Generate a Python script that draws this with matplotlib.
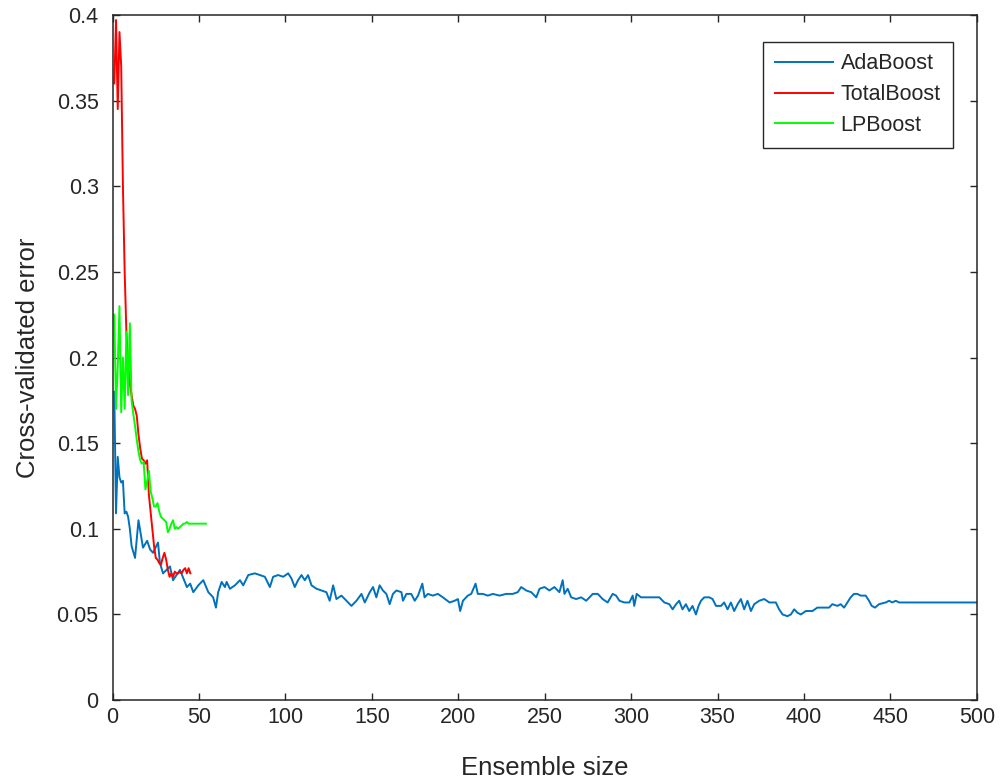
import matplotlib
matplotlib.use('Agg')
import matplotlib.pyplot as plt

# AdaBoost (blue)
ada_x = [1, 2, 3, 4, 5, 6, 7, 8, 9, 10, 11, 13, 15, 17.6, 20, 21.7, 23.4, 26.3, 27.4, 29.2,
         33.2, 35, 39, 43, 44.9, 46.7, 49.6, 52.5, 55.4, 58.2, 59.8, 61.1, 63.1, 65, 66, 67.9,
         70.8, 73.7, 75.6, 78.5, 82.3, 85.2, 88.1, 91, 92.9, 95.8, 98.7, 101.6, 103.5, 105.4,
         107.3, 109.3, 111.2, 113.1, 115.1, 118, 120.9, 123.7, 125.6, 127.6, 129.5, 132.4,
         135.3, 138.2, 141.1, 144, 145.9, 148.8, 150.7, 152.6, 154.5, 156.4, 158.4, 160.3,
         162.2, 164.2, 167.1, 168, 170, 172.8, 174.8, 176.7, 179.2, 180.5, 182.4, 185.3, 188.2,
         191.1, 195, 197.9, 199.8, 201.1, 202.7, 205.5, 207.5, 210, 211.3, 214.2, 217.1, 220,
         223.9, 227.7, 231.5, 234.4, 236.4, 239.3, 242.2, 245.1, 247, 249.9, 252.7, 255.6,
         258.5, 260.4, 261.4, 263.3, 265.3, 268.2, 271.1, 274, 277.8, 280.7, 283.5, 286.4,
         289.3, 291.3, 293.2, 296.1, 299, 300.9, 301.8, 303.2, 305.7, 316.3, 319.2, 322.1, 324,
         326, 327.8, 329.7, 331.7, 333.6, 335.5, 337.5, 339, 340.4, 342.3, 345.2, 347.1, 349.1,
         352, 353.8, 355.8, 357.7, 359.6, 361.6, 363.5, 365.4, 367.3, 369.3, 371.2, 374.1,
         377, 379.9, 383.7, 385.6, 387.6, 390.4, 392.4, 394.3, 396.2, 398.2, 401, 404.9,
         407.7, 410.6, 414.5, 416.4, 419.3, 421.2, 423.2, 425.1, 427, 428.9, 430.8, 432.8,
         435.7, 437.6, 439.2, 441.1, 443.4, 447.3, 449.2, 451.1, 453.1, 455, 456.8, 500]
ada_err = [0.18, 0.109, 0.142, 0.13, 0.127, 0.128, 0.109, 0.11, 0.107, 0.1, 0.09, 0.083, 0.105,
           0.089, 0.093, 0.088, 0.086, 0.092, 0.08, 0.074, 0.078, 0.07, 0.076, 0.066, 0.068,
           0.063, 0.067, 0.070, 0.063, 0.060, 0.054, 0.063, 0.069, 0.066, 0.069, 0.065, 0.067,
           0.070, 0.067, 0.073, 0.074, 0.073, 0.072, 0.066, 0.072, 0.073, 0.072, 0.074, 0.071,
           0.066, 0.070, 0.073, 0.070, 0.073, 0.067, 0.065, 0.064, 0.063, 0.058, 0.067, 0.059,
           0.061, 0.058, 0.055, 0.058, 0.062, 0.057, 0.063, 0.066, 0.060, 0.067, 0.064, 0.062,
           0.056, 0.062, 0.064, 0.063, 0.058, 0.062, 0.062, 0.058, 0.061, 0.068, 0.060, 0.062,
           0.061, 0.062, 0.060, 0.057, 0.058, 0.059, 0.052, 0.058, 0.061, 0.062, 0.068, 0.062,
           0.062, 0.061, 0.062, 0.061, 0.062, 0.062, 0.063, 0.066, 0.064, 0.063, 0.060, 0.065,
           0.066, 0.064, 0.066, 0.063, 0.070, 0.062, 0.065, 0.060, 0.059, 0.060, 0.058, 0.062,
           0.062, 0.059, 0.057, 0.062, 0.061, 0.058, 0.057, 0.057, 0.061, 0.055, 0.062, 0.060,
           0.060, 0.057, 0.056, 0.053, 0.056, 0.058, 0.053, 0.056, 0.052, 0.055, 0.050, 0.055,
           0.058, 0.060, 0.060, 0.059, 0.055, 0.055, 0.057, 0.053, 0.057, 0.052, 0.056, 0.059,
           0.053, 0.058, 0.052, 0.056, 0.058, 0.059, 0.057, 0.057, 0.053, 0.050, 0.049, 0.050,
           0.053, 0.051, 0.050, 0.052, 0.052, 0.054, 0.054, 0.054, 0.056, 0.055, 0.056, 0.054,
           0.057, 0.060, 0.062, 0.062, 0.061, 0.061, 0.058, 0.055, 0.054, 0.056, 0.057, 0.058,
           0.057, 0.058, 0.057, 0.057, 0.057]

# TotalBoost (red)
total_x = list(range(1, 46))
total_err = [0.36, 0.397, 0.345, 0.39, 0.37, 0.30, 0.25, 0.215, 0.195, 0.185, 0.178, 0.172,
             0.17, 0.166, 0.155, 0.147, 0.141, 0.140, 0.138, 0.140, 0.12, 0.11, 0.10, 0.09,
             0.083, 0.082, 0.080, 0.079, 0.083, 0.086, 0.082, 0.076, 0.072, 0.074, 0.072,
             0.075, 0.074, 0.074, 0.075, 0.074, 0.076, 0.077, 0.074, 0.077, 0.074]

# LPBoost (green)
lp_x = list(range(1, 55))
lp_err = [0.225, 0.17, 0.195, 0.23, 0.168, 0.2, 0.17, 0.215, 0.178, 0.22, 0.175, 0.167,
          0.16, 0.152, 0.145, 0.14, 0.138, 0.139, 0.123, 0.128, 0.134, 0.122, 0.118, 0.113,
          0.113, 0.115, 0.11, 0.107, 0.106, 0.105, 0.104, 0.098, 0.1, 0.103, 0.105, 0.1,
          0.101, 0.1, 0.101, 0.102, 0.103, 0.103, 0.104, 0.103, 0.103, 0.103, 0.103, 0.103,
          0.103, 0.103, 0.103, 0.103, 0.103, 0.103]

x_ticks = list(range(0, 501, 50))
y_ticks = [0, 0.05, 0.1, 0.15, 0.2, 0.25, 0.3, 0.35, 0.4]

plt.rcParams['font.family'] = ['Liberation Sans', 'DejaVu Sans']
axis_grey = '#262626'

fig = plt.figure(figsize=(10.05, 7.84), dpi=100)
ax = fig.add_axes([0.112, 0.107, 0.86, 0.874])

ax.plot(ada_x, ada_err, color='#0072BD', lw=1.4, label='AdaBoost')
ax.plot(total_x, total_err, color='#FF0000', lw=1.4, label='TotalBoost')
ax.plot(lp_x, lp_err, color='#00FF00', lw=1.4, label='LPBoost')

ax.set_xlim(0, 500)
ax.set_ylim(0, 0.4)
ax.set_xticks(x_ticks)
ax.set_yticks(y_ticks)
ax.set_yticklabels([f'{v:g}' for v in y_ticks])
ax.tick_params(direction='in', length=5, width=1, top=True, right=True,
               labelsize=15.5, colors=axis_grey)
ax.tick_params(axis='x', pad=5)
ax.tick_params(axis='y', pad=10)
for sp in ax.spines.values():
    sp.set_color(axis_grey)
    sp.set_linewidth(1.1)

ax.set_xlabel('Ensemble size', fontsize=18.5, color=axis_grey, labelpad=20)
ax.set_ylabel('Cross-validated error', fontsize=18.5, color=axis_grey, labelpad=12)

leg = ax.legend(loc='upper right', bbox_to_anchor=(0.972, 0.961), borderaxespad=0,
                fontsize=15.5, fancybox=False, framealpha=1, edgecolor=axis_grey,
                handlelength=2.7, handletextpad=0.35, labelspacing=0.45, borderpad=0.55)
leg.get_frame().set_linewidth(1.0)
for t in leg.get_texts():
    t.set_color(axis_grey)

fig.savefig('out.png', dpi=100)
